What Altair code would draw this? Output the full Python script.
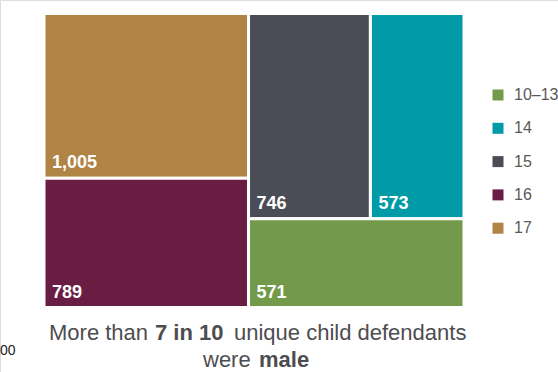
import altair as alt
import pandas as pd

# ---- data ----
ages = ["17", "16", "15", "14", "10–13"]
counts = [1005, 789, 746, 573, 571]
colors = ["#B08444", "#6A1D43", "#4A4D55", "#009BA6", "#739A4A"]
legend_order = ["10–13", "14", "15", "16", "17"]

W, H = 420.0, 294.0
PHI = (1 + 5 ** 0.5) / 2


def squarify(values, x0, y0, x1, y1, ratio=PHI):
    """d3.treemapSquarify port (values sorted descending)."""
    out = [None] * len(values)
    value = float(sum(values))
    n = len(values)
    i0 = 0
    while i0 < n:
        dx, dy = x1 - x0, y1 - y0
        s = float(values[i0])
        i1 = i0 + 1
        mn = mx = s
        alpha = max(dy / dx, dx / dy) / (value * ratio)
        beta = s * s * alpha
        min_ratio = max(mx / beta, beta / mn)
        while i1 < n:
            v = values[i1]
            s += v
            mn, mx = min(mn, v), max(mx, v)
            beta = s * s * alpha
            new_ratio = max(mx / beta, beta / mn)
            if new_ratio > min_ratio:
                s -= v
                break
            min_ratio = new_ratio
            i1 += 1
        if dx < dy:  # dice: row across the top
            ny = y0 + dy * s / value
            cx = x0
            for i in range(i0, i1):
                w = (x1 - x0) * values[i] / s
                out[i] = (cx, y0, cx + w, ny)
                cx += w
            y0 = ny
        else:  # slice: column on the left
            nx = x0 + dx * s / value
            cy = y0
            for i in range(i0, i1):
                h = (y1 - y0) * values[i] / s
                out[i] = (x0, cy, nx, cy + h)
                cy += h
            x0 = nx
        value -= s
        i0 = i1
    return out


rects = squarify(counts, 0.0, 0.0, W, H)
df = pd.DataFrame({
    "age": ages,
    "count": counts,
    "label": [f"{c:,}" for c in counts],
    "x0": [r[0] for r in rects],
    "y0": [r[1] for r in rects],
    "x1": [r[2] for r in rects],
    "y1": [r[3] for r in rects],
})

xs = alt.Scale(domain=[0, W], range=[44, 464])
ys = alt.Scale(domain=[0, H], range=[13.5, 307.5])

base = alt.Chart(df)

rects_layer = base.mark_rect(stroke="white", strokeWidth=3).encode(
    x=alt.X("x0:Q", scale=xs, axis=None),
    x2="x1:Q",
    y=alt.Y("y0:Q", scale=ys, axis=None),
    y2="y1:Q",
    color=alt.Color(
        "age:N",
        scale=alt.Scale(domain=ages, range=colors),
        sort=legend_order,
        legend=alt.Legend(
            title=None,
            orient="none",
            legendX=490,
            legendY=87,
            symbolType="square",
            symbolSize=121,
            symbolStrokeWidth=0,
            symbolOpacity=1,
            labelFontSize=16,
            labelColor="#595959",
            labelFont="Liberation Sans",
            labelOffset=8,
            rowPadding=17.3,
            padding=0,
            values=legend_order,
        ),
    ),
)

labels_layer = base.mark_text(
    align="left", baseline="alphabetic", dx=8, dy=-10,
    color="white", fontSize=18, fontWeight="bold", font="Liberation Sans",
).encode(
    x=alt.X("x0:Q", scale=xs),
    y=alt.Y("y1:Q", scale=ys),
    text="label:N",
)

# caption with mixed weights
caption_parts = [
    ("More than", "normal", 49, 340),
    ("7 in 10", "bold", 155, 340),
    ("unique child defendants", "normal", 234, 340),
    ("were", "normal", 203, 367),
    ("male", "bold", 259, 367),
]
cap_layers = []
for txt, wt, px, py in caption_parts:
    cap_layers.append(
        alt.Chart(pd.DataFrame({"t": [txt]})).mark_text(
            align="left", baseline="alphabetic", fontSize=22,
            fontWeight=wt, color="#4D4D4F", font="Liberation Sans",
        ).encode(x=alt.value(px), y=alt.value(py), text="t:N")
    )

stray = alt.Chart(pd.DataFrame({"t": ["00"]})).mark_text(
    align="left", baseline="alphabetic", fontSize=14, color="#222222",
    font="Liberation Sans",
).encode(x=alt.value(0), y=alt.value(355), text="t:N")

chart = alt.layer(rects_layer, labels_layer, *cap_layers, stray).properties(
    width=558, height=372, padding=0,
    autosize=alt.AutoSizeParams(type="none"),
).configure_view(stroke=None).configure(background="white")

chart.save("out.html", embed_options={"renderer": "svg", "actions": False})
